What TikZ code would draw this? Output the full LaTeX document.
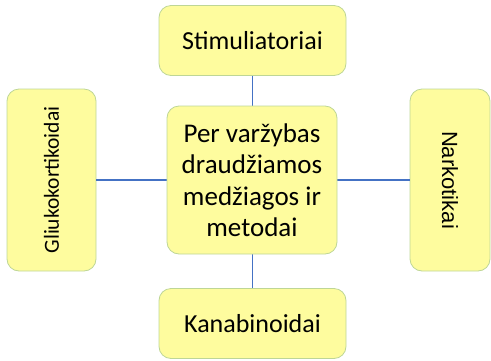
\documentclass[tikz,border=0pt]{standalone}
\usepackage{fontspec}
\setmainfont{Carlito}
\newfontfamily\arialf{Liberation Sans}
\definecolor{boxfill}{RGB}{254,252,158}
\definecolor{boxline}{RGB}{190,214,150}
\definecolor{conn}{RGB}{68,114,196}
\begin{document}
\begin{tikzpicture}[x=1pt,y=-1pt,
  box/.style={draw=boxline,fill=boxfill,line width=0.8pt,rounded corners=12pt,inner sep=0pt,font=\fontsize{26}{31}\selectfont,align=center},
  link/.style={draw=conn,line width=1.5pt}]
\useasboundingbox (0,0) rectangle (491,360);
\node[box,minimum width=187pt,minimum height=70pt] (top) at (252.5,40.5) {Stimuliatoriai};
\node[box,minimum width=187pt,minimum height=70pt] (bot) at (252.5,323.5) {Kanabinoidai};
\node[box,minimum width=89pt,minimum height=182pt] (left) at (51.5,180) {};
\node[box,minimum width=80pt,minimum height=182pt] (right) at (450,180) {};
\node[rotate=90,font=\fontsize{21.5}{26}\selectfont] (ltext) at (left.center) {Gliukokortikoidai};
\node[rotate=-90,font=\arialf\fontsize{22}{26}\selectfont] (rtext) at (right.center) {Narkotikai};
\draw[link] (top.south) -- (bot.north);
\draw[link] (left.east) -- (right.west);
\node[box,minimum width=170pt,minimum height=148pt,font=\fontsize{27}{31.5}\selectfont] (ctr) at (252,180) {Per varžybas\\draudžiamos\\medžiagos ir\\metodai};
\end{tikzpicture}
\end{document}
